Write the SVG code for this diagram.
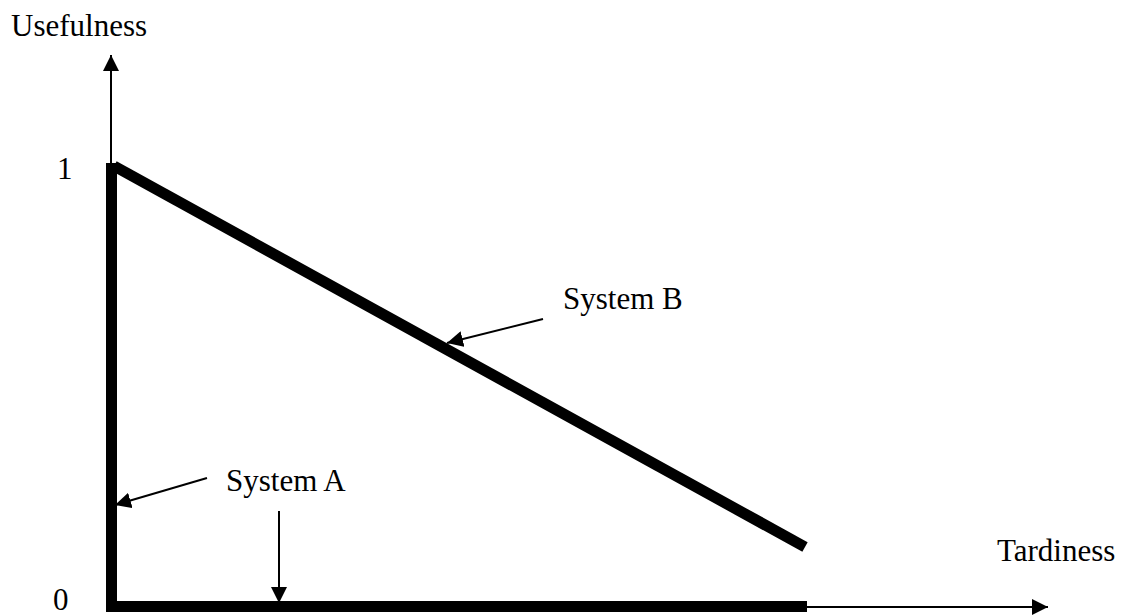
<svg xmlns="http://www.w3.org/2000/svg" width="1125" height="616" viewBox="0 0 1125 616">
<defs>
<marker id="ah" markerWidth="16" markerHeight="16" viewBox="0 0 16 16" refX="16" refY="8" orient="auto" markerUnits="userSpaceOnUse">
<path d="M0,0 L16,8 L0,16 Z" fill="#000"/>
</marker>
<style>
text{font-family:"Liberation Serif","Times New Roman",serif;font-size:31px;fill:#000}
.thin{stroke:#000;stroke-width:2;fill:none}
.thick{stroke:#000;stroke-width:11;fill:none}
</style>
</defs>
<rect width="1125" height="616" fill="#fff"/>
<g id="axes">
<line class="thin" x1="111" y1="165" x2="111" y2="55" marker-end="url(#ah)"/>
<line class="thin" x1="800" y1="607" x2="1048" y2="607" marker-end="url(#ah)"/>
</g>
<g id="curves">
<path class="thick" d="M111.5,607 L111.5,163" style="stroke-linecap:butt"/>
<line class="thick" x1="106" y1="606.5" x2="807" y2="606.5"/>
<line class="thick" x1="114" y1="166" x2="805" y2="547"/>
</g>
<g id="connectors">
<line class="thin" x1="207" y1="478" x2="115" y2="505" marker-end="url(#ah)"/>
<line class="thin" x1="279" y1="511" x2="279" y2="603" marker-end="url(#ah)"/>
<line class="thin" x1="543" y1="319" x2="447" y2="343" marker-end="url(#ah)"/>
</g>
<g id="labels">
<text x="11" y="36">Usefulness</text>
<text x="57" y="179">1</text>
<text x="53" y="610">0</text>
<text x="563" y="309">System B</text>
<text x="226" y="491">System A</text>
<text x="997" y="561">Tardiness</text>
</g>
</svg>
